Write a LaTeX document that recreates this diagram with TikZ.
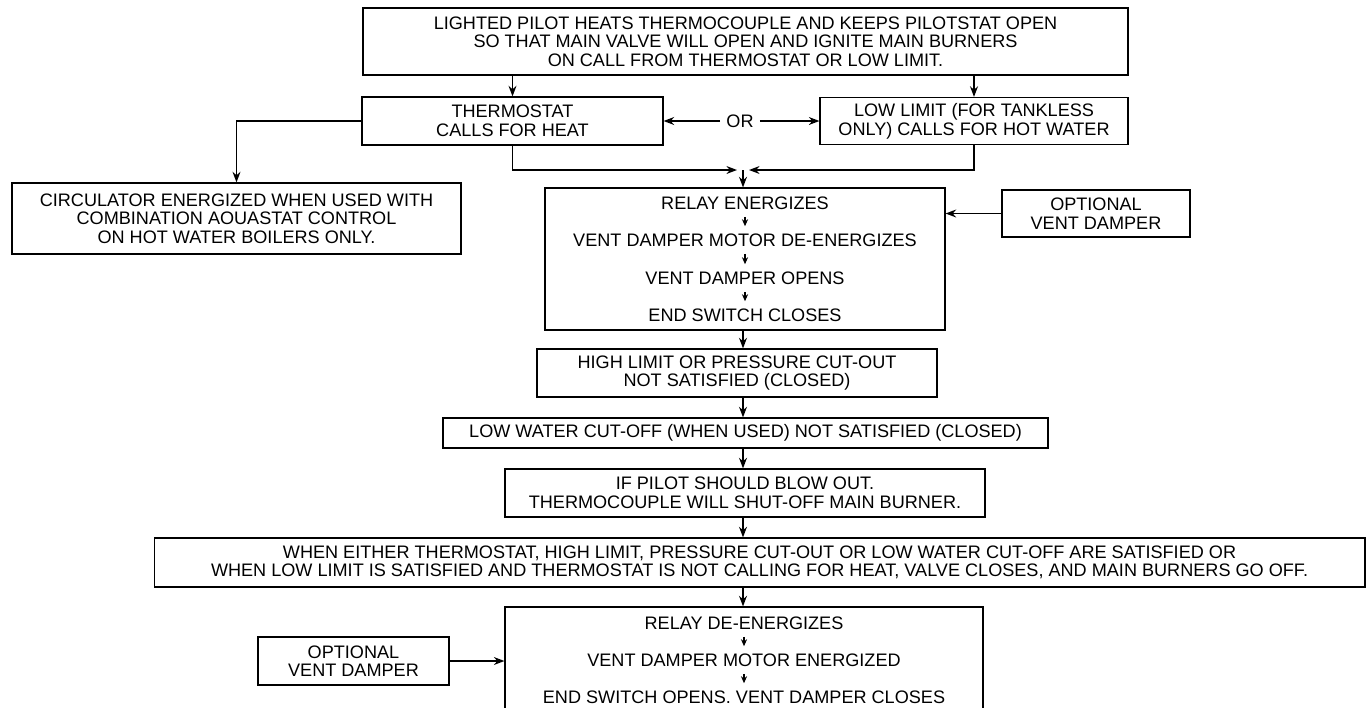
\documentclass[tikz,border=0pt]{standalone}
\usepackage{fontspec}
\setmainfont{Liberation Sans}
\usetikzlibrary{arrows.meta}

\begin{document}
\begin{tikzpicture}[
    x=0.02cm, y=-0.02cm,
    every node/.style={font=\fontsize{10.3}{10.6}\selectfont, align=center},
    box/.style={rectangle, draw, line width=0.7pt, inner sep=0pt},
    line/.style={inner xsep=2pt, inner ysep=4pt},
    arrow/.style={-{Stealth[length=6pt,width=4.5pt]}, thick},
    inarrow/.style={-{Stealth[length=4pt,width=3.5pt]}, semithick}
]
    \clip (0,0) rectangle (1366,707);

    \node[box, minimum width=15.3cm, minimum height=1.34cm] (pilot) at (745.5,41.5) {LIGHTED PILOT HEATS THERMOCOUPLE AND KEEPS PILOTSTAT OPEN\\ SO THAT MAIN VALVE WILL OPEN AND IGNITE MAIN BURNERS\\ ON CALL FROM THERMOSTAT OR LOW LIMIT.};
    \node[box, minimum width=6.02cm, minimum height=0.96cm] (thermo) at (512.5,121) {THERMOSTAT\\ CALLS FOR HEAT};
    \node[box, minimum width=6.16cm, minimum height=0.94cm] (lowlim) at (974,121) {LOW LIMIT (FOR TANKLESS\\ ONLY) CALLS FOR HOT WATER};
    \node (or) at (740,121) {OR};
    \node[box, minimum width=8.98cm, minimum height=1.42cm] (circ) at (236.5,218.5) {CIRCULATOR ENERGIZED WHEN USED WITH\\ COMBINATION AOUASTAT CONTROL\\ ON HOT WATER BOILERS ONLY.};

    \node[box, minimum width=8cm, minimum height=2.84cm] (relay) at (745,259) {};
    \node[line] (relay1) at (745,203) {RELAY ENERGIZES};
    \node[line] (relay2) at (745,240) {VENT DAMPER MOTOR DE-ENERGIZES};
    \node[line] (relay3) at (745,278) {VENT DAMPER OPENS};
    \node[line] (relay4) at (745,315) {END SWITCH CLOSES};
    \node[box, minimum width=3.76cm, minimum height=0.94cm] (optA) at (1096,213.5) {OPTIONAL\\ VENT DAMPER};

    \node[box, minimum width=8cm, minimum height=0.96cm] (high) at (737,373) {HIGH LIMIT OR PRESSURE CUT-OUT\\ NOT SATISFIED (CLOSED)};
    \node[box, minimum width=12.1cm, minimum height=0.6cm] (lowwater) at (745.5,433) {LOW WATER CUT-OFF (WHEN USED) NOT SATISFIED (CLOSED)};
    \node[box, minimum width=9.6cm, minimum height=0.96cm] (ifpilot) at (745,493) {IF PILOT SHOULD BLOW OUT.\\ THERMOCOUPLE WILL SHUT-OFF MAIN BURNER.};
    \node[box, minimum width=24.22cm, minimum height=0.98cm] (when) at (759.5,562.5) {WHEN EITHER THERMOSTAT, HIGH LIMIT, PRESSURE CUT-OUT OR LOW WATER CUT-OFF ARE SATISFIED OR\\ WHEN LOW LIMIT IS SATISFIED AND THERMOSTAT IS NOT CALLING FOR HEAT, VALVE CLOSES, AND MAIN BURNERS GO OFF.};

    \node[box, minimum width=9.56cm, minimum height=2.26cm] (relayB) at (744,663.5) {};
    \node[line] (relayB1) at (744,623) {RELAY DE-ENERGIZES};
    \node[line] (relayB2) at (744,660) {VENT DAMPER MOTOR ENERGIZED};
    \node[line] (relayB3) at (744,697) {END SWITCH OPENS. VENT DAMPER CLOSES};
    \node[box, minimum width=3.82cm, minimum height=0.96cm] (optB) at (353.5,661) {OPTIONAL\\ VENT DAMPER};

    \coordinate (merge) at (743,170);
    \coordinate (spine) at (743,0);

    \draw[arrow] (pilot.south -| thermo) -- (thermo);
    \draw[arrow] (pilot.south -| lowlim) -- (lowlim);
    \draw[arrow] (or) -- (thermo);
    \draw[arrow] (or) -- (lowlim);
    \draw[arrow] (thermo) -| (circ);
    \draw[arrow] (thermo) |- ([xshift=-0.12cm]merge);
    \draw[arrow] (lowlim) |- ([xshift=0.12cm]merge);
    \draw[arrow] (merge) -- (merge |- relay.north);
    \draw[arrow] (optA) -- (optA -| relay.east);
    \draw[arrow] (optB) -- (optB -| relayB.west);

    \foreach \a/\b in {relay1/relay2, relay2/relay3, relay3/relay4, relayB1/relayB2, relayB2/relayB3}
        \draw[inarrow] (\a) -- (\b);
    \foreach \a/\b in {relay/high, high/lowwater, lowwater/ifpilot, ifpilot/when, when/relayB}
        \draw[arrow] (\a.south -| spine) -- (\b.north -| spine);
\end{tikzpicture}
\end{document}
